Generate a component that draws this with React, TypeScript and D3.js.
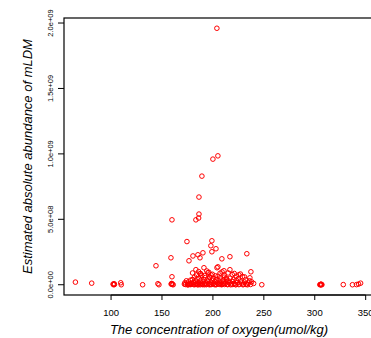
import React from "react";
import * as d3 from "d3";

const W = 371;
const H = 338;

// oxygen concentration (umol/kg)
const oxygen: number[] = [
  // high outliers
  203.9, 204.9, 200, 189.2, 186.3, 186.3, 186, 183.3, 159.8, 174.5,
  199, 198, 203, 199, 158.8, 176.5, 180.4, 185.3, 187.3, 190.2,
  208.8, 216.7, 233.3, 144.1, 183.3, 191.2, 204, 204.9, 210.8, 216.7,
  237.3, 225.5, 159.8, 187.3, 195.1, 198, 236.3, 146, 159.8,
  // sparse low, left and right
  65, 81, 102, 102.5, 103, 103.3, 109.5, 110, 131, 147,
  159, 159.5, 160, 161, 248,
  305, 305.5, 306, 306.5, 307, 305.8, 306.2,
  328, 337, 341, 343, 345,
  // dense low cluster
  172, 172.5, 173, 174, 175, 175.5, 176, 177, 178, 178.5,
  179, 180, 180.5, 181, 182, 182.5, 183, 184, 184.5, 185,
  186, 186.5, 187, 188, 188.5, 189, 190, 190.5, 191, 192,
  192.5, 193, 194, 195, 195.5, 196, 197, 197.5, 198, 199,
  200, 200.5, 201, 202, 203, 203.5, 204, 205, 205.5, 206,
  207, 207.5, 208, 209, 210, 210.5, 211, 212, 213, 213.5,
  214, 215, 216, 217, 218, 219, 220, 221, 222, 223,
  224, 225, 226, 227, 228, 229, 230, 231, 232, 233,
  235, 236, 237, 238, 240,
  175, 176.5, 178, 181.5, 183.5, 185.5, 187.5, 189.5, 191.5, 193.5,
  196.5, 198.5, 201.5, 203, 206.5, 208.5, 211.5, 214.5, 217.5, 219.5,
  222.5, 225.5, 229.5, 232.5, 234,
  180, 184, 188, 192, 196, 199.5, 202.5, 207, 211, 215,
  219, 223, 227, 231, 186, 194, 209, 221, 197, 213
];

// estimated absolute abundance of mLDM
const abundance: number[] = [
  19.6e8, 9.85e8, 9.6e8, 8.3e8, 6.7e8, 5.4e8, 5.1e8, 4.96e8, 4.96e8, 3.3e8,
  3.36e8, 2.98e8, 2.75e8, 2.52e8, 2.06e8, 1.83e8, 2.2e8, 2.29e8, 2.06e8, 2.44e8,
  1.98e8, 2.14e8, 2.37e8, 1.45e8, 1.15e8, 1.3e8, 1.3e8, 1.37e8, 1.07e8, 1.15e8,
  0.99e8, 0.76e8, 0.61e8, 0.84e8, 0.92e8, 0.76e8, 0.53e8, 0.08e8, 0.08e8,
  0.2e8, 0.12e8, 0.05e8, 0.0, 0.08e8, 0.02e8, 0.15e8, 0.0, 0.0, 0.0,
  0.05e8, 0.1e8, 0.02e8, 0.0, 0.0,
  0.0, 0.02e8, 0.0, 0.03e8, 0.0, 0.01e8, 0.04e8,
  0.01e8, 0.0, 0.01e8, 0.05e8, 0.12e8,
  0.05e8, 0.15e8, 0.02e8, 0.3e8, 0.1e8, 0.0, 0.22e8, 0.08e8, 0.35e8, 0.02e8,
  0.12e8, 0.4e8, 0.05e8, 0.18e8, 0.6e8, 0.02e8, 0.28e8, 0.1e8, 0.45e8, 0.0,
  0.15e8, 0.5e8, 0.06e8, 0.32e8, 0.12e8, 0.7e8, 0.02e8, 0.2e8, 0.38e8, 0.08e8,
  0.55e8, 0.14e8, 0.03e8, 0.26e8, 0.44e8, 0.1e8, 0.6e8, 0.02e8, 0.18e8, 0.35e8,
  0.08e8, 0.48e8, 0.12e8, 0.25e8, 0.02e8, 0.4e8, 0.15e8, 0.65e8, 0.05e8, 0.3e8,
  0.1e8, 0.52e8, 0.2e8, 0.03e8, 0.36e8, 0.12e8, 0.58e8, 0.08e8, 0.22e8, 0.42e8,
  0.02e8, 0.3e8, 0.15e8, 0.5e8, 0.06e8, 0.25e8, 0.4e8, 0.1e8, 0.02e8, 0.34e8,
  0.18e8, 0.46e8, 0.05e8, 0.28e8, 0.12e8, 0.62e8, 0.03e8, 0.2e8, 0.38e8, 0.08e8,
  0.14e8, 0.3e8, 0.02e8, 0.22e8, 0.1e8,
  0.0, 0.01e8, 0.02e8, 0.0, 0.03e8, 0.01e8, 0.0, 0.02e8, 0.0, 0.01e8,
  0.0, 0.02e8, 0.01e8, 0.0, 0.03e8, 0.0, 0.02e8, 0.01e8, 0.0, 0.02e8,
  0.0, 0.01e8, 0.0, 0.02e8, 0.0,
  0.9e8, 0.75e8, 0.85e8, 0.7e8, 0.95e8, 0.8e8, 0.68e8, 0.88e8, 0.72e8, 0.9e8,
  0.78e8, 0.66e8, 0.82e8, 0.6e8, 1.0e8, 1.05e8, 0.98e8, 0.86e8, 0.55e8, 0.5e8
];

const xTicks: number[] = [100, 150, 200, 250, 300, 350];
const yTicks: number[] = [0, 5e8, 1e9, 1.5e9, 2e9];
const yTickLabels: string[] = ["0.0e+00", "5.0e+08", "1.0e+09", "1.5e+09", "2.0e+09"];

const xTitle = "The concentration of oxygen(umol/kg)";
const yTitle = "Estimated absolute abundance of mLDM";

export default function App() {
  const left = 64, right = 372, top = 18, bottom = 295;
  const xMin = d3.min(oxygen)!, xMax = d3.max(oxygen)!;
  const yMin = 0, yMax = d3.max(abundance)!;
  const xPad = (xMax - xMin) * 0.04;
  const yPad = (yMax - yMin) * 0.04;
  const x = d3.scaleLinear().domain([xMin - xPad, xMax + xPad]).range([left, right]);
  const y = d3.scaleLinear().domain([yMin - yPad, yMax + yPad]).range([bottom, top]);
  const font = "'Liberation Sans', Arial, sans-serif";

  return (
    <svg width={W} height={H} style={{ position: "absolute", left: 0, top: 0, background: "#fff" }}>
      <rect x={0} y={0} width={W} height={H} fill="#fff" />
      {oxygen.map((o, i) => (
        <circle key={i} cx={x(o)} cy={y(abundance[i])} r={2.3} fill="none" stroke="#ff0000" strokeWidth={1} />
      ))}
      <rect x={left} y={top} width={right - left} height={bottom - top} fill="none" stroke="#000" strokeWidth={1.2} />
      {/* x axis */}
      <line x1={x(xTicks[0])} x2={x(xTicks[xTicks.length - 1])} y1={bottom} y2={bottom} stroke="#000" strokeWidth={1} />
      {xTicks.map((t) => (
        <g key={t}>
          <line x1={x(t)} x2={x(t)} y1={bottom} y2={bottom + 5} stroke="#000" strokeWidth={1} />
          <text x={x(t)} y={316} textAnchor="middle" fontSize={9.5} fontFamily={font} fill="#000">{t}</text>
        </g>
      ))}
      {/* y axis */}
      {yTicks.map((t, i) => (
        <g key={t}>
          <line x1={left - 6} x2={left} y1={y(t)} y2={y(t)} stroke="#000" strokeWidth={1} />
          <text transform={`translate(52.5,${y(t)}) rotate(-90)`} textAnchor="middle" fontSize={7.5} fontFamily={font} fill="#000">{yTickLabels[i]}</text>
        </g>
      ))}
      <text x={219} y={334} textAnchor="middle" fontSize={13} fontStyle="italic" fontFamily={font} fill="#000">{xTitle}</text>
      <text transform={`translate(31.5,${(top + bottom) / 2}) rotate(-90)`} textAnchor="middle" fontSize={13} fontStyle="italic" fontFamily={font} fill="#000">{yTitle}</text>
    </svg>
  );
}
